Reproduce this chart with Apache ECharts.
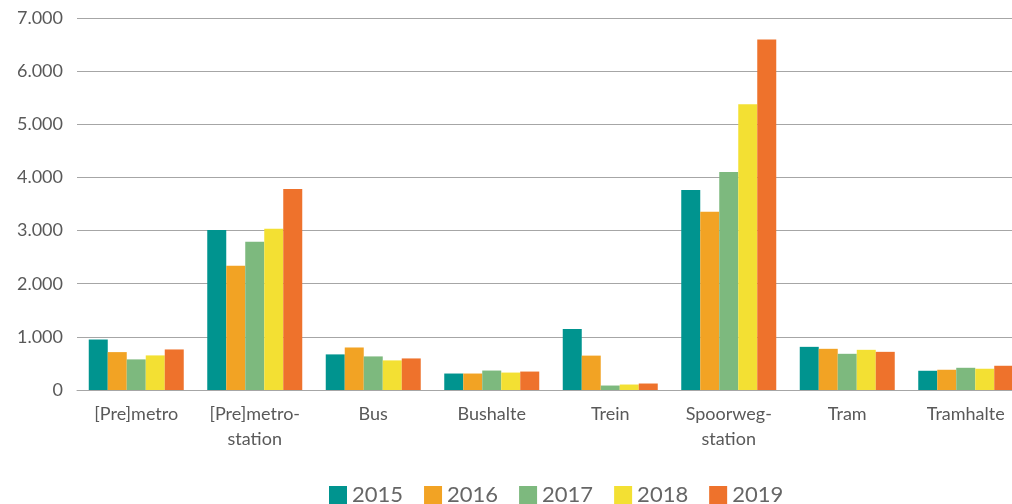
<!DOCTYPE html>
<html>
<head>
<meta charset="utf-8">
<script src="https://cdn.jsdelivr.net/npm/echarts@6/dist/echarts.min.js"></script>
<style>
  html, body { margin: 0; padding: 0; background: #ffffff; overflow: hidden; }
  #chart { width: 1025px; height: 504px; }
</style>
</head>
<body>
<div id="chart"></div>
<script>
// Categories (modes of transport / stops)
const categories = ['[Pre]metro', '[Pre]metro-\nstation', 'Bus', 'Bushalte', 'Trein', 'Spoorweg-\nstation', 'Tram', 'Tramhalte'];

// Yearly values per category
const years = ['2015', '2016', '2017', '2018', '2019'];
const values2015 = [950, 3010, 670, 310, 1150, 3765, 812, 362];
const values2016 = [713, 2338, 800, 310, 647, 3352, 775, 381];
const values2017 = [576, 2788, 632, 366, 84, 4103, 681, 418];
const values2018 = [651, 3032, 557, 328, 103, 5378, 756, 400];
const values2019 = [763, 3782, 594, 347, 122, 6597, 718, 456];

const colors = ['#00948F', '#F2A324', '#7DB97E', '#F3E033', '#EE722C'];
const fontFamily = 'Lato, "Open Sans", sans-serif';

const seriesValues = [values2015, values2016, values2017, values2018, values2019];

function thousands(v) {
  return String(v).replace(/\B(?=(\d{3})+(?!\d))/g, '.');
}

// The plot runs slightly past the right edge of the visible page
const chart = echarts.init(document.getElementById('chart'), null, { renderer: 'canvas' });

chart.setOption({
  animation: false,
  backgroundColor: '#ffffff',
  color: colors,
  textStyle: { fontFamily: fontFamily },
  grid: { left: 77, top: 18, right: 0, bottom: 114, containLabel: false },
  legend: {
    data: years,
    left: 324,
    top: 479,
    itemWidth: 18,
    itemHeight: 18,
    itemGap: 21,
    icon: 'rect',
    textStyle: { fontSize: 22, color: '#666666', fontFamily: fontFamily }
  },
  xAxis: {
    type: 'category',
    data: categories,
    axisLine: { show: true, lineStyle: { color: '#A6A6A6', width: 1 } },
    axisTick: { show: false },
    axisLabel: {
      color: '#595959',
      fontSize: 18,
      lineHeight: 25,
      margin: 12,
      interval: 0,
      fontFamily: fontFamily
    }
  },
  yAxis: {
    type: 'value',
    min: 0,
    max: 7000,
    interval: 1000,
    axisLine: { show: false },
    axisTick: { show: false },
    splitLine: { lineStyle: { color: '#A6A6A6', width: 1 } },
    axisLabel: {
      color: '#595959',
      fontSize: 18,
      margin: 14,
      fontFamily: fontFamily,
      formatter: thousands
    }
  },
  series: years.map((y, i) => ({
    name: y,
    type: 'bar',
    data: seriesValues[i],
    barWidth: 19,
    barGap: '0%',
    itemStyle: { color: colors[i] }
  }))
});
</script>
</body>
</html>
